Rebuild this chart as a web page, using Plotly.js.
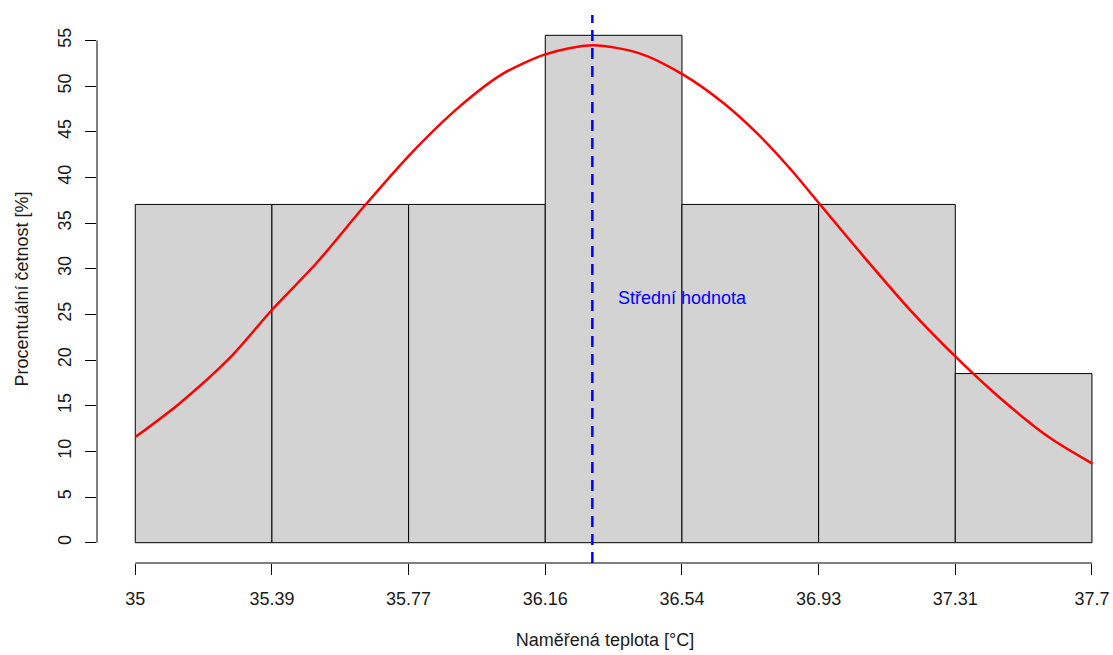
<!DOCTYPE html>
<html>
<head>
<meta charset="utf-8">
<script src="https://cdn.plot.ly/plotly-3.0.1.min.js"></script>
<style>
  html, body { margin: 0; padding: 0; background: #ffffff; overflow: hidden; }
  #chart { width: 1113px; height: 655px; }
</style>
</head>
<body>
<div id="chart"></div>
<script>
// Histogram breaks (class boundaries) and tick labels
const breaks = [35, 35.3857, 35.7714, 36.1571, 36.5429, 36.9286, 37.3143, 37.7];
const tickLabels = ['35', '35.39', '35.77', '36.16', '36.54', '36.93', '37.31', '37.7'];
// Percentual frequency (density x 100) per class
const percentages = [37.04, 37.04, 37.04, 55.56, 37.04, 37.04, 18.52];
// Fitted normal curve
const curveX = [35.001, 35.125, 35.266, 35.388, 35.511, 35.652, 35.774, 35.915, 36.038, 36.160, 36.291,
                36.423, 36.545, 36.658, 36.753, 36.847, 36.931, 37.063, 37.185, 37.312, 37.439, 37.580, 37.701];
const curveY = [11.59, 15.25, 20.20, 25.59, 30.60, 37.11, 42.45, 47.75, 51.36, 53.50, 54.46,
                53.58, 51.28, 48.20, 44.90, 41.00, 37.11, 31.00, 25.55, 20.48, 15.90, 11.51, 8.66];
const meanValue = 36.29;
const meanLabel = 'Střední hodnota';
const meanLabelPos = [36.545, 26.8];
const yTicks = [0, 5, 10, 15, 20, 25, 30, 35, 40, 45, 50, 55];

const mids = [], widths = [];
for (let i = 0; i < percentages.length; i++) {
  mids.push((breaks[i] + breaks[i + 1]) / 2);
  widths.push(breaks[i + 1] - breaks[i]);
}

const font = 'Liberation Sans, Arial, sans-serif';

const traces = [
  {
    type: 'bar', x: mids, y: percentages, width: widths,
    marker: { color: '#d3d3d3', line: { color: '#000000', width: 1 } },
    hoverinfo: 'skip', showlegend: false
  },
  {
    type: 'scatter', mode: 'lines', x: curveX, y: curveY,
    line: { color: '#ff0000', width: 2.5, shape: 'spline', smoothing: 0.8 },
    hoverinfo: 'skip', showlegend: false
  }
];

const layout = {
  width: 1113, height: 655,
  margin: { l: 97, r: 0, t: 15, b: 92 },
  paper_bgcolor: '#ffffff', plot_bgcolor: '#ffffff',
  font: { family: font, size: 18, color: '#000000' },
  bargap: 0,
  xaxis: {
    range: [34.892, 37.7594], showgrid: false, zeroline: false, showline: false,
    tickmode: 'array', tickvals: breaks, ticktext: tickLabels,
    ticks: 'outside', ticklen: 11, tickwidth: 1, tickcolor: '#000000',
    ticklabelstandoff: 8,
    tickfont: { family: font, size: 18, color: '#1a1a1a' },
    title: { text: 'Naměřená teplota [°C]', font: { family: font, size: 18, color: '#1a1a1a' }, standoff: 25 },
    automargin: false, fixedrange: true
  },
  yaxis: {
    range: [-2.2224, 57.7824], showgrid: false, zeroline: false, showline: false,
    tickmode: 'array', tickvals: yTicks, ticktext: yTicks.map(String),
    ticks: 'outside', ticklen: 11, tickwidth: 1, tickcolor: '#000000',
    tickangle: -90,
    ticklabelstandoff: 7,
    tickfont: { family: font, size: 18, color: '#1a1a1a' },
    title: { text: 'Procentuální četnost [%]', font: { family: font, size: 18, color: '#1a1a1a' }, standoff: 21 },
    automargin: false, fixedrange: true
  },
  shapes: [
    { type: 'line', xref: 'x', yref: 'paper', x0: breaks[0], x1: breaks[breaks.length - 1], y0: 0, y1: 0,
      line: { color: '#000000', width: 1 } },
    { type: 'line', xref: 'paper', yref: 'y', x0: 0, x1: 0, y0: yTicks[0], y1: yTicks[yTicks.length - 1],
      line: { color: '#000000', width: 1 } },
    { type: 'line', xref: 'x', yref: 'paper', x0: meanValue, x1: meanValue, y0: 0, y1: 1,
      line: { color: '#0000ff', width: 2.5, dash: '11px,7px' } }
  ],
  annotations: [
    { xref: 'x', yref: 'y', x: meanLabelPos[0], y: meanLabelPos[1], text: meanLabel, showarrow: false,
      xanchor: 'center', yanchor: 'middle', font: { family: font, size: 18, color: '#0000ff' } }
  ]
};

Plotly.newPlot('chart', traces, layout, { displayModeBar: false, staticPlot: true });
</script>
</body>
</html>
